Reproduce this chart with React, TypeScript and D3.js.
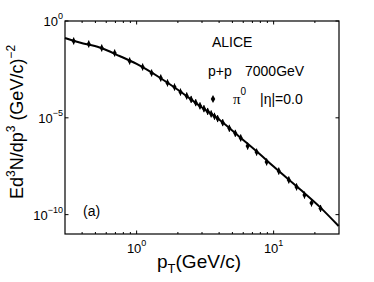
import React from "react";
import * as d3 from "d3";

// Data points (pT in GeV/c, invariant yield)
const pointPt = [0.347, 0.447, 0.556, 0.691, 0.889, 1.106, 1.286, 1.5, 1.68, 1.89, 2.09, 2.32,
  2.5, 2.7, 2.9, 3.1, 3.3, 3.5, 3.7, 3.9, 4.25, 4.75, 5.25, 5.75,
  6.46, 7.51, 8.89, 10.9, 12.9, 14.7, 16.8, 18.9, 22.0];
const pointLog = [-1.033, -1.188, -1.395, -1.653, -2.066, -2.376, -2.686, -2.944, -3.2, -3.41, -3.67, -3.87,
  -4.05, -4.22, -4.38, -4.53, -4.67, -4.8, -4.92, -5.04, -5.25, -5.54, -5.8, -6.04,
  -6.46, -6.77, -7.28, -7.75, -8.21, -8.57, -8.99, -9.4, -9.68];
const pointErrLog = 0.18;

// Fit curve samples
const curvePt = [0.3, 0.384, 0.537, 0.751, 1.0, 1.47, 2.06, 2.88, 4.04, 5.65, 7.91, 10, 15.5, 21.7, 29.8];
const curveLog = [-0.878, -1.11, -1.369, -1.808, -2.22, -2.918, -3.616, -4.375, -5.114, -5.99, -6.87, -7.52, -8.68, -9.6, -10.59];

const xTicks = [1, 10];
const xTickExp = ["0", "1"];
const xMinor = [0.4, 0.5, 0.6, 0.7, 0.8, 0.9, 2, 3, 4, 5, 6, 7, 8, 9, 20];
const yTicks = [1, 1e-5, 1e-10];
const yTickExp = ["0", "\u22125", "\u221210"];

const W = 374, H = 282;
const left = 65, right = 339, top = 21, bottom = 234;
const FONT = "'Liberation Sans', Arial, Helvetica, sans-serif";

export default function App() {
  const x = d3.scaleLog().domain([0.3, 30]).range([left, right]);
  const y = d3.scaleLog().domain([1e-11, 1]).range([bottom, top]);

  const curveData = curvePt.map((p, i) => [p, Math.pow(10, curveLog[i])] as [number, number]);
  const line = d3.line<[number, number]>()
    .x(d => x(d[0]))
    .y(d => y(d[1]))
    .curve(d3.curveMonotoneX);

  const diamond = d3.symbol().type(d3.symbolDiamond).size(15)();
  const legendDiamond = d3.symbol().type(d3.symbolDiamond).size(18)();

  const pts = pointPt.map((p, i) => ({ p, v: Math.pow(10, pointLog[i]) }));

  return (
    <svg width={W} height={H} style={{ position: "absolute", left: 0, top: 0, background: "#fff" }}
      fontFamily={FONT}>
      <rect x={0} y={0} width={W} height={H} fill="#fff" />
      {/* fit curve */}
      <path d={line(curveData) || ""} fill="none" stroke="#000" strokeWidth={2} />
      {/* points */}
      {pts.map((d, i) => (
        <g key={i}>
          <line x1={x(d.p)} x2={x(d.p)} y1={y(d.v * Math.pow(10, pointErrLog))} y2={y(d.v / Math.pow(10, pointErrLog))}
            stroke="#000" strokeWidth={1} />
          <path d={diamond} transform={`translate(${x(d.p)},${y(d.v)})`} fill="#000" />
        </g>
      ))}
      {/* frame */}
      <rect x={left} y={top} width={right - left} height={bottom - top} fill="none" stroke="#000" strokeWidth={1.2} />
      {/* x ticks */}
      {xTicks.map((t, i) => (
        <g key={"xt" + i}>
          <line x1={x(t)} x2={x(t)} y1={bottom} y2={bottom - 3.5} stroke="#000" strokeWidth={1} />
          <line x1={x(t)} x2={x(t)} y1={top} y2={top + 3.5} stroke="#000" strokeWidth={1} />
          <text x={x(t)} y={253} textAnchor="middle" fontSize={13}>
            10<tspan fontSize={9} dy={-7}>{xTickExp[i]}</tspan>
          </text>
        </g>
      ))}
      {xMinor.map((t, i) => (
        <g key={"xm" + i}>
          <line x1={x(t)} x2={x(t)} y1={bottom} y2={bottom - 2} stroke="#000" strokeWidth={1} />
          <line x1={x(t)} x2={x(t)} y1={top} y2={top + 2} stroke="#000" strokeWidth={1} />
        </g>
      ))}
      {/* y ticks */}
      {yTicks.map((t, i) => (
        <g key={"yt" + i}>
          <line x1={left} x2={left + 3.5} y1={y(t)} y2={y(t)} stroke="#000" strokeWidth={1} />
          <line x1={right} x2={right - 3.5} y1={y(t)} y2={y(t)} stroke="#000" strokeWidth={1} />
          <text x={63} y={y(t) + 5} textAnchor="end" fontSize={13}>
            10<tspan fontSize={9} dy={-7}>{yTickExp[i]}</tspan>
          </text>
        </g>
      ))}
      {/* axis labels */}
      <text x={157} y={268} fontSize={19}>
        p<tspan fontSize={13} dy={5}>T</tspan><tspan dy={-5}>(GeV/c)</tspan>
      </text>
      <text transform="translate(23,122) rotate(-90)" textAnchor="middle" fontSize={18}>
        Ed<tspan fontSize={12} dy={-8}>3</tspan><tspan dy={8}>N/dp</tspan><tspan fontSize={12} dy={-8}>3</tspan>
        <tspan dy={8}> (GeV/c)</tspan><tspan fontSize={12} dy={-8}>{"\u22122"}</tspan>
      </text>
      {/* legend */}
      <text x={212} y={47} fontSize={14}>ALICE</text>
      <text x={208} y={76} fontSize={14}>p+p</text>
      <text x={245} y={76} fontSize={14}>7000GeV</text>
      <path d={legendDiamond} transform="translate(213,99)" fill="#000" />
      <text x={233} y={104} fontSize={15} fontFamily="'Liberation Serif', 'Times New Roman', serif">
        π<tspan fontSize={10} dy={-9} fontFamily={FONT}>0</tspan>
      </text>
      <text x={260} y={104} fontSize={14}>|η|=0.0</text>
      <text x={83} y={216} fontSize={14}>(a)</text>
    </svg>
  );
}
